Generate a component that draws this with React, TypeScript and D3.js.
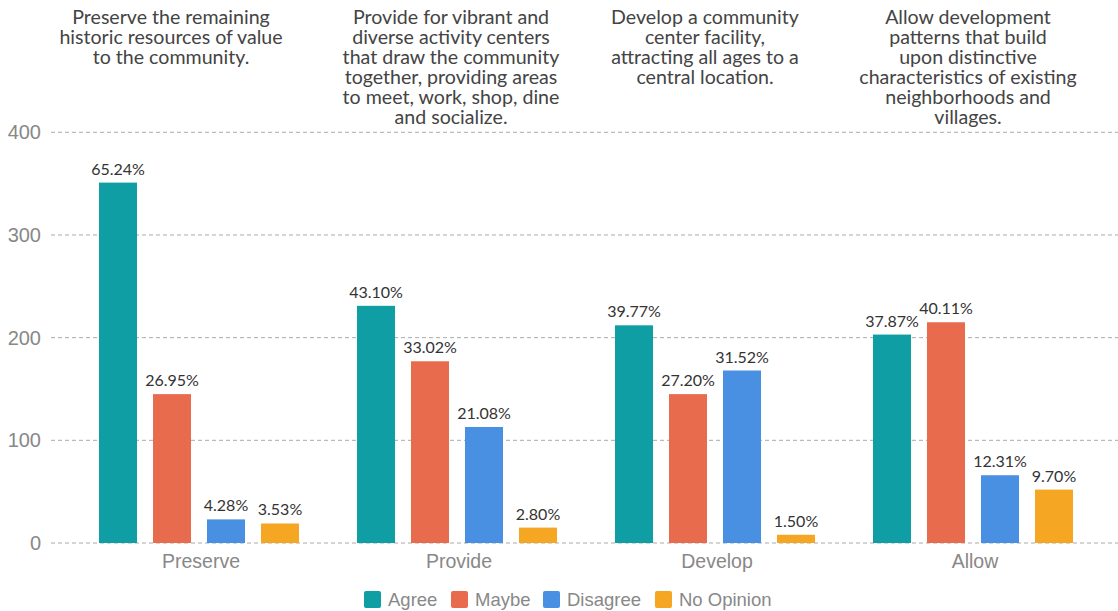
import React from "react";
import * as d3 from "d3";

const categories = ["Preserve", "Provide", "Develop", "Allow"];
const titles = [
  ["Preserve the remaining", "historic resources of value", "to the community."],
  ["Provide for vibrant and", "diverse activity centers", "that draw the community", "together, providing areas", "to meet, work, shop, dine", "and socialize."],
  ["Develop a community", "center facility,", "attracting all ages to a", "central location."],
  ["Allow development", "patterns that build", "upon distinctive", "characteristics of existing", "neighborhoods and", "villages."],
];
const titleCenters = [171, 451, 705, 968];
const seriesNames = ["Agree", "Maybe", "Disagree", "No Opinion"];
const colors = ["#0e9ea3", "#e86b4d", "#4a90e2", "#f5a623"];
const agree = [351, 231, 212, 203];
const maybe = [145, 177, 145, 215];
const disagree = [23, 113, 168, 66];
const noOpinion = [19, 15, 8, 52];
const agreePct = ["65.24%", "43.10%", "39.77%", "37.87%"];
const maybePct = ["26.95%", "33.02%", "27.20%", "40.11%"];
const disagreePct = ["4.28%", "21.08%", "31.52%", "12.31%"];
const noOpinionPct = ["3.53%", "2.80%", "1.50%", "9.70%"];
const yTicks = [0, 100, 200, 300, 400];

const W = 1118;
const H = 611;

export default function App() {
  const values = [agree, maybe, disagree, noOpinion];
  const pcts = [agreePct, maybePct, disagreePct, noOpinionPct];
  const y = d3.scaleLinear().domain([0, 400]).range([543, 132.3]);
  const x0 = d3.scaleBand<string>().domain(categories).range([70, 1102]).padding(0);
  const groupW = 200;
  const x1 = d3
    .scaleBand<string>()
    .domain(seriesNames)
    .range([0, groupW])
    .paddingInner(16 / 54)
    .paddingOuter(0);
  const legendX = [364, 451, 543, 655];
  const labelFont = "Lato, 'Noto Sans', sans-serif";
  const axisFont = "'Liberation Sans', Arial, sans-serif";

  return (
    <svg width={W} height={H} style={{ position: "absolute", left: 0, top: 0 }}>
      <rect width={W} height={H} fill="#fff" />
      {yTicks.map((t) => (
        <g key={t}>
          <line x1={51} x2={1118} y1={y(t)} y2={y(t)} stroke="#aaa" strokeWidth={1} strokeDasharray="4,3" />
          <text x={41} y={y(t) + 7} textAnchor="end" fontSize={20} fill="#888" fontFamily={axisFont}>
            {t}
          </text>
        </g>
      ))}
      {categories.map((c, ci) => {
        const gx = (x0(c) as number) + (x0.bandwidth() - groupW) / 2;
        const cx = (x0(c) as number) + x0.bandwidth() / 2;
        return (
          <g key={c}>
            {titles[ci].map((line, li) => (
              <text
                key={li}
                x={titleCenters[ci]}
                y={24 + li * 20}
                textAnchor="middle"
                fontSize={19.6}
                fill="#444"
                fontFamily={labelFont}
              >
                {line}
              </text>
            ))}
            {seriesNames.map((s, si) => {
              const bx = gx + (x1(s) as number);
              const v = values[si][ci];
              return (
                <g key={s}>
                  <rect x={bx} y={y(v)} width={x1.bandwidth()} height={y(0) - y(v)} fill={colors[si]} />
                  <text
                    x={bx + x1.bandwidth() / 2}
                    y={y(v) - 8}
                    textAnchor="middle"
                    fontSize={16}
                    fill="#333"
                    fontFamily={labelFont}
                  >
                    {pcts[si][ci]}
                  </text>
                </g>
              );
            })}
            <text x={cx + 2} y={568} textAnchor="middle" fontSize={19.5} fill="#888" fontFamily={axisFont}>
              {c}
            </text>
          </g>
        );
      })}
      {seriesNames.map((s, si) => (
        <g key={s}>
          <rect x={legendX[si]} y={591} width={17} height={17} rx={2} fill={colors[si]} />
          <text x={legendX[si] + 24} y={606} fontSize={18.5} fill="#888" fontFamily={axisFont}>
            {s}
          </text>
        </g>
      ))}
    </svg>
  );
}
